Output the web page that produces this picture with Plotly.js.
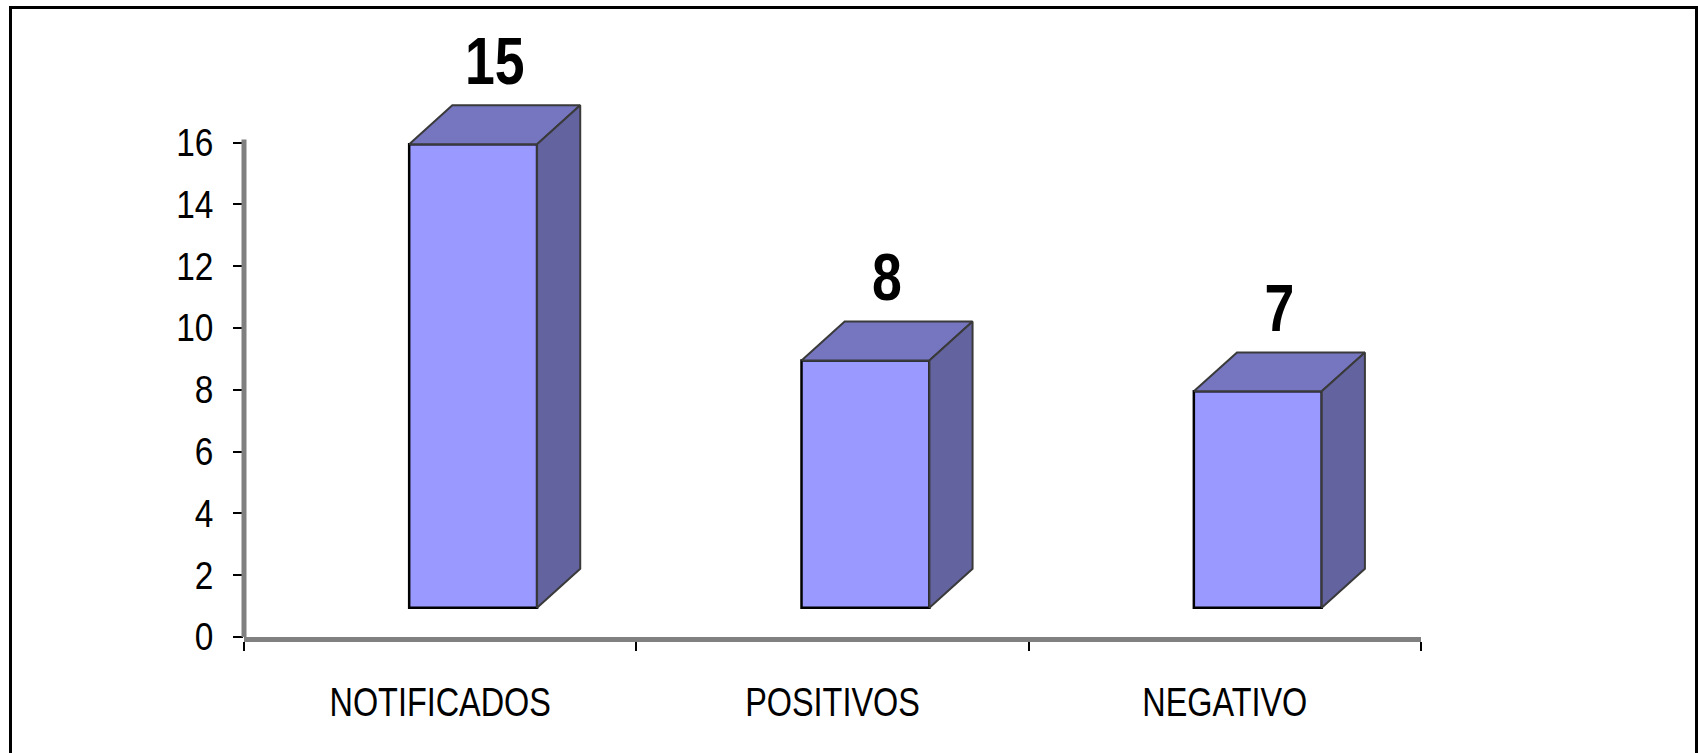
<!DOCTYPE html>
<html>
<head>
<meta charset="utf-8">
<script src="https://cdn.plot.ly/plotly-3.0.1.min.js"></script>
<style>
  html, body { margin: 0; padding: 0; background: #ffffff; }
  #chart { width: 1698px; height: 753px; position: absolute; left: 0; top: 0; }
  #frame { position: absolute; left: 9px; top: 6px; width: 1689px; height: 760px;
           border: 3px solid #000; box-sizing: border-box; pointer-events: none; }
</style>
</head>
<body>
<div id="chart"></div>
<div id="frame"></div>
<script>
// ---- data ----
const categories = ['NOTIFICADOS', 'POSITIVOS', 'NEGATIVO'];
const values = [15, 8, 7];
const yTickVals = [0, 2, 4, 6, 8, 10, 12, 14, 16];
const yTickText = ['0', '2', '4', '6', '8', '10', '12', '14', '16'];

// ---- 3D styling constants ----
const floorLift = 0.95;   // front face starts this far above 0 (y units)
const depthX = 0.11;      // depth shift, category units
const depthY = 1.26;      // depth shift, y units
const barOffset = -0.079; // front face left edge relative to category centre
const barWidth = 0.326;   // front face width, category units
const labelLift = 0.15;

const frontColor = '#9999ff';
const topColor = '#7575c0';
const sideColor = '#6363a0';
const edgeColor = '#3a3a3a';
const sans = '"Liberation Sans", Arial, sans-serif';

const traces = [];

// front faces
traces.push({
  type: 'bar', x: categories, y: values,
  base: values.map(() => floorLift),
  offset: barOffset, width: barWidth,
  marker: { color: frontColor, line: { color: '#000', width: 2.5 } },
  hoverinfo: 'skip', showlegend: false, xaxis: 'x', yaxis: 'y'
});

// top and side faces on an overlaid numeric axis
values.forEach((v, i) => {
  const xl = i + barOffset, xr = xl + barWidth;
  const yb = floorLift, yt = floorLift + v;
  traces.push({
    type: 'scatter', mode: 'lines', fill: 'toself', fillcolor: topColor,
    x: [xl, xr, xr + depthX, xl + depthX, xl],
    y: [yt, yt, yt + depthY, yt + depthY, yt],
    line: { color: edgeColor, width: 2 },
    hoverinfo: 'skip', showlegend: false, xaxis: 'x2', yaxis: 'y'
  });
  traces.push({
    type: 'scatter', mode: 'lines', fill: 'toself', fillcolor: sideColor,
    x: [xr, xr + depthX, xr + depthX, xr, xr],
    y: [yt, yt + depthY, yb + depthY, yb, yt],
    line: { color: edgeColor, width: 2 },
    hoverinfo: 'skip', showlegend: false, xaxis: 'x2', yaxis: 'y'
  });
});

// value labels
traces.push({
  type: 'scatter', mode: 'text',
  x: values.map((v, i) => i + barOffset + barWidth / 2 + depthX / 2),
  y: values.map(v => v + floorLift + depthY + labelLift),
  text: values.map(v => String(v)),
  textposition: 'top center',
  textfont: { family: sans, size: 67, color: '#000', weight: 'bold' },
  cliponaxis: false, hoverinfo: 'skip', showlegend: false, xaxis: 'x2', yaxis: 'y'
});

const pxPerUnit = 30.9;
const mTop = 18, mBottom = 116;
const plotH = 753 - mTop - mBottom;
const yMax = plotH / pxPerUnit;

const layout = {
  width: 1698, height: 753,
  margin: { l: 244, r: 277, t: mTop, b: mBottom, pad: 0 },
  paper_bgcolor: '#ffffff', plot_bgcolor: '#ffffff',
  showlegend: false,
  bargap: 0,
  xaxis: {
    type: 'category', range: [-0.5, 2.5], fixedrange: true,
    showline: true, linecolor: '#808080', linewidth: 5,
    ticks: 'outside', tickson: 'boundaries', ticklen: 9, tickwidth: 2, tickcolor: '#000',
    showgrid: false, zeroline: false, automargin: false,
    tickfont: { family: sans, size: 40, color: '#000' },
    ticklabelstandoff: 26
  },
  xaxis2: {
    overlaying: 'x', range: [-0.5, 2.5], visible: false, fixedrange: true
  },
  yaxis: {
    range: [0, yMax], fixedrange: true,
    showline: false, showgrid: false, zeroline: false,
    tickmode: 'array', tickvals: yTickVals, ticktext: yTickText,
    ticks: 'outside', ticklen: 10, tickwidth: 2, tickcolor: '#000',
    tickfont: { family: sans, size: 38, color: '#000' },
    ticklabelstandoff: 12, automargin: false
  },
  shapes: [{
    type: 'line', xref: 'paper', yref: 'y',
    x0: 0, x1: 0, y0: 0, y1: yTickVals[yTickVals.length - 1] + 0.1,
    line: { color: '#808080', width: 5 }, layer: 'above'
  }]
};

// horizontally condense text (the original uses a tall, narrow rendering)
function squeeze(sel, s, anchor) {
  document.querySelectorAll(sel).forEach(t => {
    const b = t.getBBox();
    const ax = anchor === 'end' ? b.x + b.width : b.x + b.width / 2;
    const prev = t.getAttribute('transform') || '';
    t.setAttribute('transform', prev + ' translate(' + ax + ',0) scale(' + s + ',1) translate(' + (-ax) + ',0)');
  });
}

Plotly.newPlot('chart', traces, layout, { displayModeBar: false, staticPlot: true }).then(() => {
  squeeze('#chart .xtick text', 0.81, 'middle');
  squeeze('#chart .ytick text', 0.88, 'end');
  squeeze('#chart .textpoint text', 0.8, 'middle');
});
</script>
</body>
</html>
